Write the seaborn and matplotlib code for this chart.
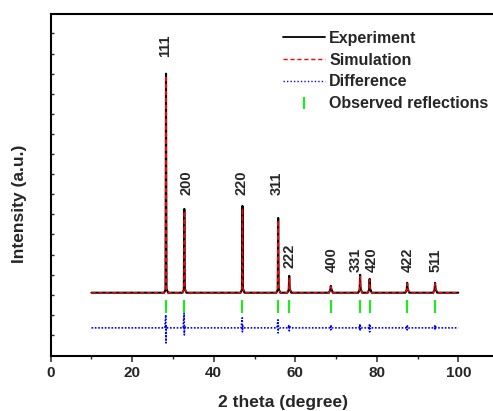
import numpy as np
import pandas as pd
import matplotlib
matplotlib.use("Agg")
import matplotlib.pyplot as plt
from matplotlib.lines import Line2D
import seaborn as sns

# ---- data ----
hkl = ["111", "200", "220", "311", "222", "400", "331", "420", "422", "511"]
peak_pos = [28.29, 32.78, 47.04, 55.81, 58.52, 68.72, 75.91, 78.25, 87.46, 94.30]
exp_top = [14.0, 7.27, 7.42, 6.82, 3.94, 3.44, 3.99, 3.79, 3.59, 3.59]
sim_top = [13.9, 7.15, 7.3, 6.7, 3.85, 3.4, 3.9, 3.75, 3.55, 3.55]
diff_hi = [2.0, 2.1, 1.85, 1.75, 1.5, 1.45, 1.5, 1.5, 1.45, 1.45]
diff_lo = [0.6, 1.0, 1.15, 1.1, 1.2, 1.25, 1.2, 1.15, 1.25, 1.25]
label_x = [28.0, 33.4, 46.9, 55.4, 58.5, 69.0, 74.9, 78.8, 87.7, 94.5]
label_y = [14.83, 7.97, 7.97, 7.97, 4.33, 4.13, 4.13, 4.13, 4.13, 4.13]
scan_range = [10.0, 100.0]
exp_base = 3.1
diff_base = 1.35
tick_lo, tick_hi = 2.1, 2.74
x_ticks = [0, 20, 40, 60, 80, 100]

# ---- build profile vertices from the read values ----
def profile(tops, base):
    xs, ys = [scan_range[0]], [base]
    for p, t in zip(peak_pos, tops):
        xs += [p - 0.45, p - 0.12, p, p + 0.12, p + 0.5]
        ys += [base, base + 0.15, t, base + 0.2, base]
    xs.append(scan_range[1]); ys.append(base)
    return pd.DataFrame({"x": xs, "y": ys})

def diff_profile():
    xs, ys = [scan_range[0]], [diff_base]
    for p, hi, lo in zip(peak_pos, diff_hi, diff_lo):
        xs += [p - 0.3, p - 0.05, p, p + 0.05, p + 0.3]
        ys += [diff_base, hi, lo, diff_base + 0.1, diff_base]
    xs.append(scan_range[1]); ys.append(diff_base)
    return pd.DataFrame({"x": xs, "y": ys})

exp_df = profile(exp_top, exp_base)
sim_df = profile(sim_top, exp_base)
dif_df = diff_profile()
refl_df = pd.DataFrame({"x": peak_pos})

sns.set_style("ticks")
plt.rcParams["font.family"] = ["Liberation Sans", "DejaVu Sans"]
plt.rcParams["font.weight"] = "bold"

fig = plt.figure(figsize=(4.93, 4.11), dpi=100)
W, H = 493, 411
x0, x1 = 0, 110
ppu = 4.076
ax = fig.add_axes([50.7 / W, (H - 356) / H, (x1 - x0) * ppu / W, (356 - 14) / H])

sns.lineplot(data=exp_df, x="x", y="y", sort=False, estimator=None,
             color="black", lw=1.5, ax=ax)
sns.lineplot(data=sim_df, x="x", y="y", sort=False, estimator=None,
             color="#ff0000", lw=1.0, ax=ax, dashes=False)
ax.lines[-1].set_linestyle((0, (3, 2)))
sns.lineplot(data=dif_df, x="x", y="y", sort=False, estimator=None,
             color="#0000ff", lw=1.2, ax=ax)
ax.lines[-1].set_linestyle((0, (1, 1)))
ax.vlines(refl_df["x"], tick_lo, tick_hi, color="#22e822", lw=1.6)

for lx, ly, t in zip(label_x, label_y, hkl):
    ax.text(lx, ly, t, rotation=90, ha="center", va="bottom",
            fontsize=10.5, fontweight="bold")

ax.set_xlim(x0, x1)
ax.set_ylim(-0.05, 16.97)
ax.set_xticks(x_ticks)
ax.set_xticks([10, 30, 50, 70, 90, 110], minor=True)
ax.set_yticks(range(1, 17))
ax.set_yticklabels([])
ax.tick_params(axis="x", which="major", direction="out", length=4.5, width=1.1,
               labelsize=11, pad=3)
ax.tick_params(axis="x", which="minor", direction="out", length=2.5, width=1.0)
ax.tick_params(axis="y", which="major", direction="in", length=2.5, width=1.0)
for lab in ax.get_xticklabels():
    lab.set_fontweight("bold")

for s in ["left", "bottom", "top"]:
    ax.spines[s].set_linewidth(1.5)
    ax.spines[s].set_color("black")
ax.spines["right"].set_visible(False)

ax.set_xlabel("2 theta (degree)", fontsize=12.5, fontweight="bold", va="center")
ax.set_ylabel("Intensity (a.u.)", fontsize=12.5, fontweight="bold", va="center")
ax.xaxis.set_label_coords((282.5 - 50.7) / ((x1 - x0) * ppu), (356 - 402) / 342)
ax.yaxis.set_label_coords((20 - 50.7) / ((x1 - x0) * ppu), (356 - 204) / 342)

handles = [
    Line2D([], [], color="black", lw=1.3),
    Line2D([], [], color="#ff0000", lw=1.0, linestyle=(0, (3, 2))),
    Line2D([], [], color="#0000ff", lw=1.0, linestyle=(0, (1, 1.5))),
    Line2D([], [], color="#22e822", lw=0, marker="|", markersize=9, markeredgewidth=1.6),
]
labels = ["Experiment", "Simulation", "Difference", "Observed reflections"]
fig.legend(handles, labels, loc="upper left", bbox_to_anchor=(283 / W, 1 - 31 / H),
           frameon=False, prop={"weight": "bold", "size": 11.5},
           handlelength=2.6, handletextpad=0.3, labelspacing=0.42,
           borderpad=0, borderaxespad=0)

fig.savefig("out.png", dpi=100)
